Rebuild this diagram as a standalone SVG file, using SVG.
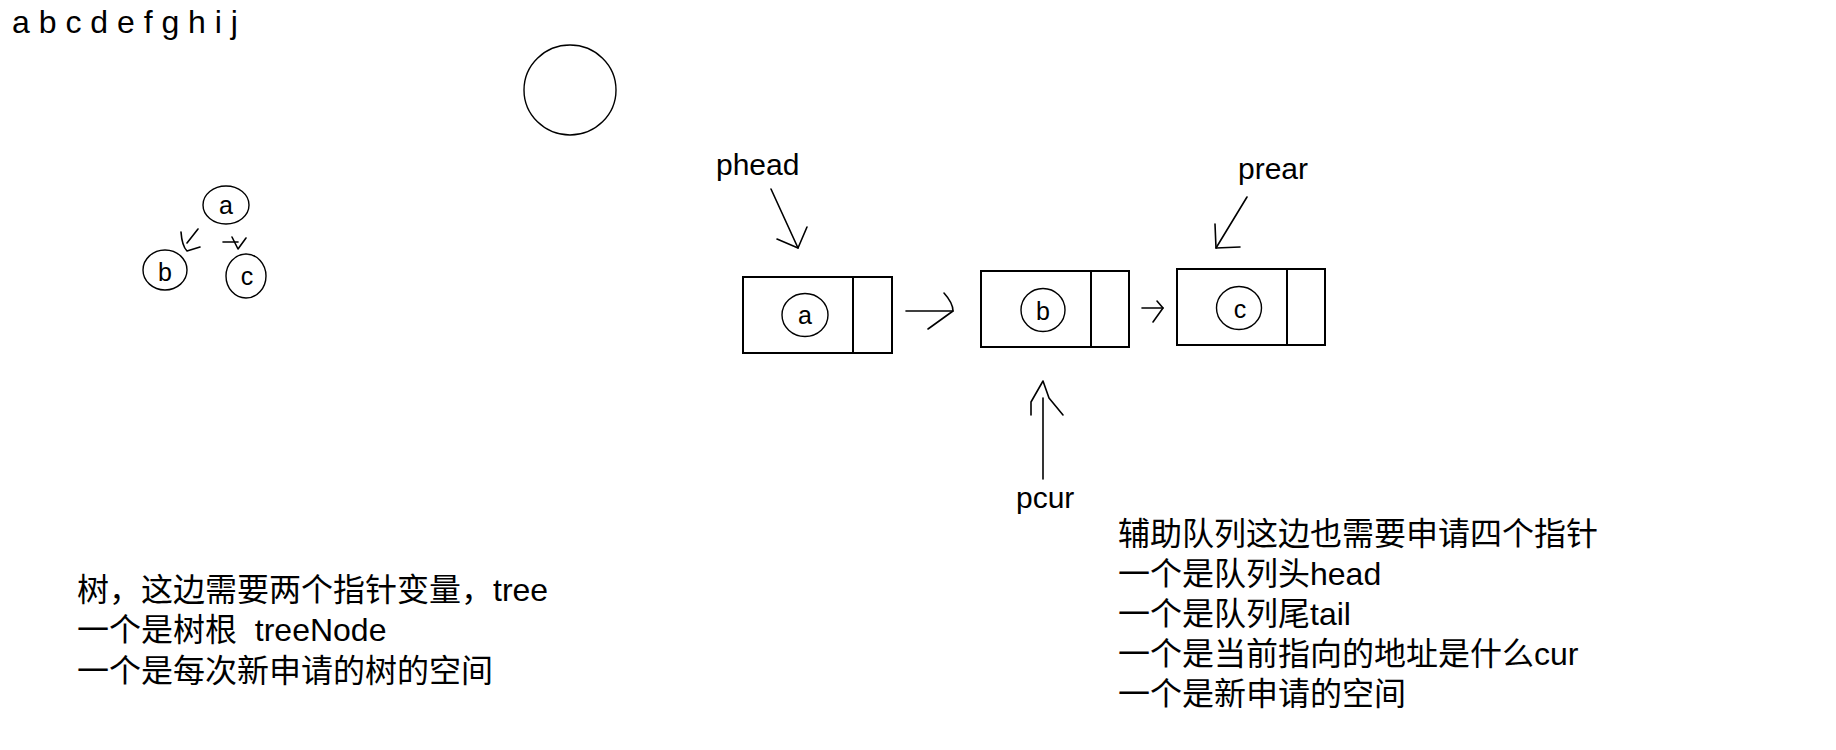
<svg xmlns="http://www.w3.org/2000/svg" width="1836" height="750" viewBox="0 0 1836 750">
<style>
  .bg{fill:#ffffff}
  .box{fill:none;stroke:#000;stroke-width:2}
  .circ{fill:none;stroke:#000;stroke-width:1.4}
  .ln{fill:none;stroke:#000;stroke-width:1.6;stroke-linecap:round;stroke-linejoin:round}
  .lbl{font-family:"Liberation Sans","Noto Sans CJK SC",sans-serif;fill:#000;white-space:pre}
  .t30{font-size:30px}
  .t32{font-size:32px}
  .hand{font-family:"Liberation Sans",sans-serif;font-size:25px;fill:#000;text-anchor:middle}
</style>
<rect class="bg" x="0" y="0" width="1836" height="750"/>

<g id="alphabet"><text class="lbl" x="12" y="33" font-size="32">a b c d e f g h i j</text></g>

<g id="big-circle"><ellipse class="circ" cx="570" cy="90" rx="46" ry="45"/></g>

<g id="tree-a"><ellipse class="circ" cx="226" cy="205" rx="23" ry="19"/><text class="hand" x="226" y="214">a</text></g>
<g id="tree-b"><ellipse class="circ" cx="165" cy="270" rx="22" ry="20"/><text class="hand" x="165" y="281">b</text></g>
<g id="tree-c"><ellipse class="circ" cx="246" cy="276" rx="20" ry="22"/><text class="hand" x="247" y="285">c</text></g>

<g id="node-a">
  <rect class="box" x="743" y="277" width="149" height="76"/>
  <line class="box" x1="853" y1="277" x2="853" y2="353"/>
  <ellipse class="circ" cx="805" cy="315" rx="23" ry="21.5"/>
  <text class="hand" x="805" y="324">a</text>
</g>
<g id="node-b">
  <rect class="box" x="981" y="271" width="148" height="76"/>
  <line class="box" x1="1091" y1="271" x2="1091" y2="347"/>
  <ellipse class="circ" cx="1043" cy="310" rx="22" ry="21.5"/>
  <text class="hand" x="1043" y="320">b</text>
</g>
<g id="node-c">
  <rect class="box" x="1177" y="269" width="148" height="76"/>
  <line class="box" x1="1287" y1="269" x2="1287" y2="345"/>
  <ellipse class="circ" cx="1239" cy="308" rx="22.5" ry="21.5"/>
  <text class="hand" x="1240" y="318">c</text>
</g>

<g id="label-phead"><text class="lbl t30" x="716" y="175">phead</text></g>
<g id="label-prear"><text class="lbl t30" x="1238" y="179">prear</text></g>
<g id="label-pcur"><text class="lbl t30" x="1016" y="508">pcur</text></g>

<g id="connectors">
  <path class="ln" d="M198 229 L187 243"/>
  <path class="ln" d="M181 232 Q182 246 187 251 L200 247"/>
  <path class="ln" d="M223 242 L238 242"/>
  <path class="ln" d="M232 237 L238 249 L246 238"/>

  <path class="ln" d="M906 311 L953 311"/>
  <path class="ln" d="M944 293 Q953 303 953 311 L928 329"/>
  <path class="ln" d="M1142 308 L1163 308"/>
  <path class="ln" d="M1157 301 L1163 308 L1153 322"/>

  <path class="ln" d="M771 189 L798 248"/>
  <path class="ln" d="M777 239 L798 248 L807 227"/>
  <path class="ln" d="M1247 197 L1216 248"/>
  <path class="ln" d="M1215 224 L1216 248 L1240 247"/>
  <path class="ln" d="M1043 479 L1043 398"/>
  <path class="ln" d="M1031 415 L1031 402 L1043 381 L1049 398 L1063 415"/>
</g>

<g id="note-tree" class="lbl t32">
  <text x="77" y="601">树，这边需要两个指针变量，tree</text>
  <text x="77" y="641">一个是树根&#160;&#160;treeNode</text>
  <text x="77" y="682">一个是每次新申请的树的空间</text>
</g>

<g id="note-queue" class="lbl t32">
  <text x="1118" y="545">辅助队列这边也需要申请四个指针</text>
  <text x="1118" y="585">一个是队列头head</text>
  <text x="1118" y="625">一个是队列尾tail</text>
  <text x="1118" y="665">一个是当前指向的地址是什么cur</text>
  <text x="1118" y="705">一个是新申请的空间</text>
</g>
</svg>
